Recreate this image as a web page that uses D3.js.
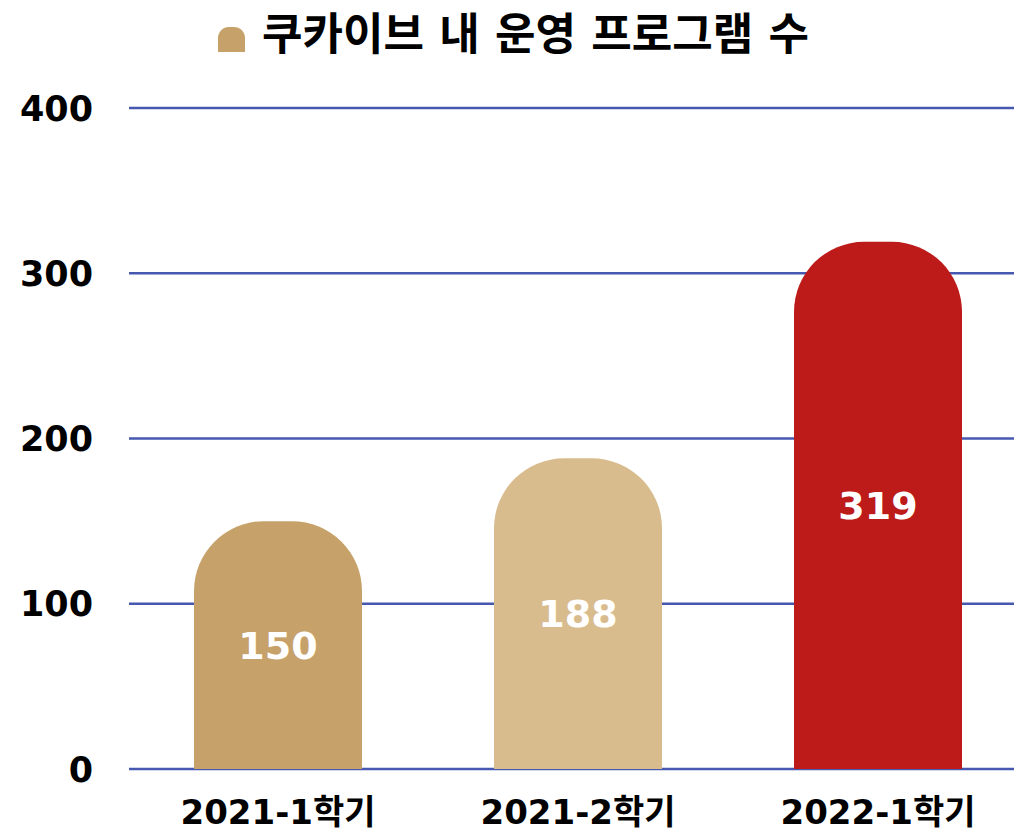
<!DOCTYPE html>
<html>
<head>
<meta charset="utf-8">
<script src="https://cdn.jsdelivr.net/npm/d3@7"></script>
<style>
  body { margin: 0; background: #fff; }
  text { font-family: "DejaVu Sans", "Noto Sans CJK KR", sans-serif; font-weight: 700; }
</style>
</head>
<body>
<div id="chart"></div>
<script>
var width = 1014,
    height = 835;

// data
var categories = ["2021-1학기", "2021-2학기", "2022-1학기"];
var values = [150, 188, 319];
var barColors = ["#C6A169", "#D9BC8E", "#BD1A1A"];
var yTicks = [0, 100, 200, 300, 400];
var title = "쿠카이브 내 운영 프로그램 수";

var svg = d3.select("#chart").append("svg")
    .attr("width", width)
    .attr("height", height);

var x = d3.scaleBand()
    .domain(categories)
    .range([128, 1028])
    .paddingInner(0.44)
    .paddingOuter(0.22);

var y = d3.scaleLinear()
    .domain([0, 400])
    .range([769, 108]);

// gridlines
svg.selectAll(".grid")
    .data(yTicks)
    .enter().append("line")
    .attr("x1", 129)
    .attr("x2", width)
    .attr("y1", function(d) { return y(d); })
    .attr("y2", function(d) { return y(d); })
    .style("stroke", "#4658B0")
    .style("stroke-width", 2.5);

// y labels
svg.selectAll(".ylab")
    .data(yTicks)
    .enter().append("text")
    .attr("x", 93)
    .attr("y", function(d) { return y(d); })
    .attr("dy", "0.36em")
    .attr("text-anchor", "end")
    .style("font-size", "35px")
    .text(function(d) { return d; });

// rounded-top bar path
function barPath(x0, w, top, bottom, r) {
    return "M" + x0 + "," + bottom +
        "V" + (top + r) +
        "A" + r + "," + r + " 0 0 1 " + (x0 + r) + "," + top +
        "H" + (x0 + w - r) +
        "A" + r + "," + r + " 0 0 1 " + (x0 + w) + "," + (top + r) +
        "V" + bottom + "Z";
}

svg.selectAll(".bar")
    .data(values)
    .enter().append("path")
    .attr("class", "bar")
    .attr("d", function(d, i) {
        return barPath(x(categories[i]), x.bandwidth(), y(d), y(0), 70);
    })
    .attr("fill", function(d, i) { return barColors[i]; });

// value labels
svg.selectAll(".val")
    .data(values)
    .enter().append("text")
    .attr("x", function(d, i) { return x(categories[i]) + x.bandwidth() / 2; })
    .attr("y", function(d) { return (y(d) + y(0)) / 2; })
    .attr("dy", "0.36em")
    .attr("text-anchor", "middle")
    .style("font-size", "38px")
    .style("fill", "#fff")
    .text(function(d) { return d; });

// x labels
svg.selectAll(".xlab")
    .data(categories)
    .enter().append("text")
    .attr("x", function(d) { return x(d) + x.bandwidth() / 2; })
    .attr("y", 812)
    .attr("dy", "0.36em")
    .attr("text-anchor", "middle")
    .style("font-size", "34px")
    .text(function(d) { return d; });

// title with legend icon
svg.append("path")
    .attr("d", barPath(218, 27, 27, 52, 11))
    .attr("fill", barColors[0]);

svg.append("text")
    .attr("x", 262)
    .attr("y", 34)
    .attr("dy", "0.36em")
    .style("font-size", "44px")
    .text(title);
</script>
</body>
</html>
